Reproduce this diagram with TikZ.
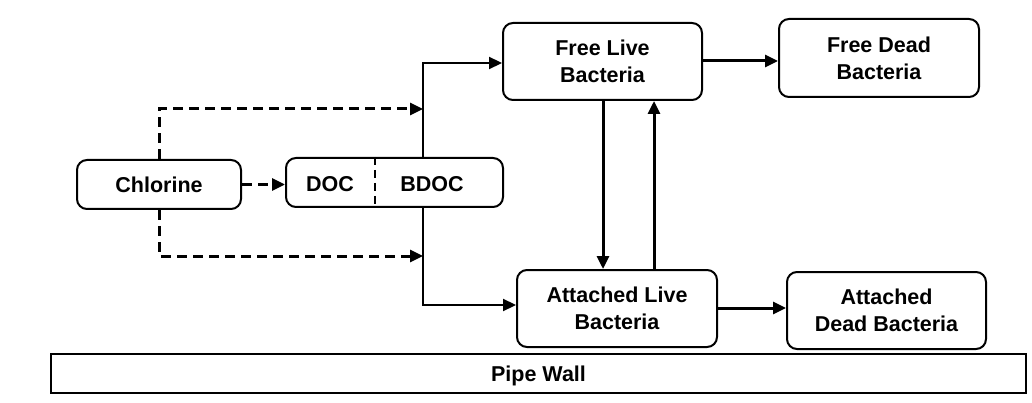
\documentclass[tikz,border=0pt]{standalone}
\usepackage{fontspec}
\setmainfont{Liberation Sans}
\usetikzlibrary{arrows.meta}
\begin{document}
\begin{tikzpicture}[x=1pt,y=-1pt,
  lbl/.style={font=\fontsize{21.5}{27}\selectfont\bfseries, align=center},
  box/.style={draw, line width=2pt, rounded corners=10pt, lbl, inner sep=0pt},
  arr/.style={-{Triangle[length=13pt,width=12pt]}, line width=3pt},
  darr/.style={arr, dash pattern=on 10pt off 6pt},
  feed/.style={-{Triangle[length=13pt,width=12pt]}, line width=2.2pt}]
\useasboundingbox (0,0) rectangle (1032,403);
% nodes
\node[box, minimum width=164pt, minimum height=49pt] (chl) at (159,184.5) {Chlorine};
\node[box, minimum width=217pt, minimum height=49pt] (doc) at (394.5,182.5) {};
\node[lbl] (doct) at (330,184) {DOC};
\node[lbl] (bdoct) at (432,184) {BDOC};
\coordinate (div) at (375,182.5);
\draw[line width=2pt, dash pattern=on 8pt off 5pt] (doc.north -| div) -- (doc.south -| div);
\node[box, minimum width=199pt, minimum height=77pt] (fl) at (602.5,61.5) {Free Live\\Bacteria};
\node[box, minimum width=200pt, minimum height=78pt] (fd) at (879,58) {Free Dead\\Bacteria};
\node[box, minimum width=200pt, minimum height=77pt] (al) at (617,308.5) {Attached Live\\Bacteria};
\node[box, minimum width=199pt, minimum height=77pt] (ad) at (886.5,310.5) {Attached\\Dead Bacteria};
\node[draw, line width=2pt, minimum width=975pt, minimum height=39pt, inner sep=0pt] (pipe) at (538.5,373.5) {};
\node[lbl] (pipet) at (538.5,375.5) {Pipe Wall};
% junction coordinates
\coordinate (jx) at (423,0);
\coordinate (up) at (423,109);
\coordinate (dn) at (423,256);
\coordinate (cx) at (159,0);
% dashed chlorine connectors
\draw[darr] (chl.east) -- (doc.west |- chl.east);
\draw[darr] (chl.north) -- (cx |- up) -- (up);
\draw[darr] (chl.south) -- (cx |- dn) -- (dn);
% solid feeds
\draw[feed] (doc.north -| jx) -- (jx |- 0,63) -- (fl.west |- 0,63);
\draw[feed] (doc.south -| jx) -- (jx |- 0,305) -- (al.west |- 0,305);
% death arrows
\draw[arr] (fl.east |- 0,61) -- (fd.west |- 0,61);
\draw[arr] (al.east |- 0,308) -- (ad.west |- 0,308);
% attach / detach
\coordinate (xa) at (603,0);
\coordinate (xb) at (654,0);
\draw[arr] (fl.south -| xa) -- (al.north -| xa);
\draw[arr] (al.north -| xb) -- (fl.south -| xb);
\end{tikzpicture}
\end{document}
